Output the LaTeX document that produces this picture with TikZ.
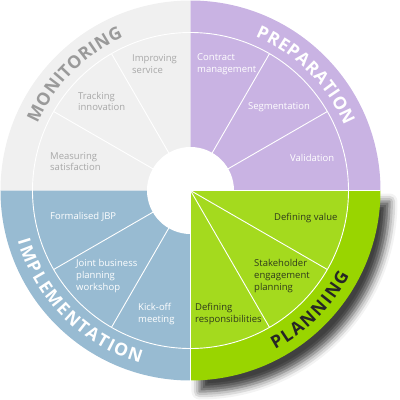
\documentclass[tikz,border=0pt]{standalone}
\usepackage{fontspec}
\setmainfont{Open Sans}
\usetikzlibrary{decorations.text,shadows.blur}
\definecolor{qgrey}{HTML}{F0F0F0}
\definecolor{qpurple}{HTML}{C9B3E3}
\definecolor{qblue}{HTML}{98BBD2}
\definecolor{qgreen}{HTML}{99D500}
\definecolor{qgreenin}{HTML}{A4DA1E}
\definecolor{labgrey}{HTML}{A8A8A8}
\definecolor{titlegrey}{HTML}{9A9A9A}
\definecolor{labdark}{HTML}{2F3A1C}
\newcommand{\titlefnt}{\fontsize{17.5}{17.5}\selectfont\bfseries}
\begin{document}
\begin{tikzpicture}[x=1pt,y=1pt,
  lab/.style={font=\fontsize{9.5}{11.7}\selectfont, align=left, inner sep=0pt, anchor=west},
  sep/.style={white, line width=0.9pt},
  ring/.style={white, line width=0.9pt},
  title/.style={decorate, decoration={text along path, text align=center, text={|\titlefnt|#1}}}
]
\useasboundingbox (-190.5,-209.5) rectangle (209.5,190.5);
% quadrants
\fill[qpurple] (0,0) -- (0:190) arc[start angle=0, end angle=90, radius=190] -- cycle;
\fill[qgrey] (0,0) -- (90:190) arc[start angle=90, end angle=180, radius=190] -- cycle;
\fill[qblue] (0,0) -- (180:190) arc[start angle=180, end angle=270, radius=190] -- cycle;
% rings
\draw[ring] (0:158) arc[start angle=0, end angle=270, radius=158];
% separators
\foreach \a in {30,60,120,150,210,240} \draw[sep] (\a:43) -- (\a:158);
% hub
\fill[white] (0,0) circle (43.5);
% planning quadrant
\fill[qgreen, blur shadow={shadow xshift=9pt, shadow yshift=-11pt, shadow blur radius=8pt, shadow opacity=75}]
  (0,0) -- (270:190) arc[start angle=270, end angle=360, radius=190] -- cycle;
\fill[qgreenin] (0,0) -- (270:158) arc[start angle=270, end angle=360, radius=158] -- cycle;
\draw[white, line width=0.8pt] (0:190) -- (0,0) -- (270:190);
\draw[ring] (270:158) arc[start angle=270, end angle=360, radius=158];
\foreach \a in {300,330} \draw[sep] (0,0) -- (\a:158);
% labels
\node[lab, text=labgrey] (improving) at (-58.5,126.5) {Improving\\service};
\node[lab, text=labgrey] (tracking) at (-112.5,89) {Tracking\\innovation};
\node[lab, text=labgrey] (measuring) at (-140.5,29) {Measuring\\satisfaction};
\node[lab, text=white] (contract) at (6.5,126.5) {Contract\\management};
\node[lab, text=white] (segment) at (57.5,83.5) {Segmentation};
\node[lab, text=white] (validation) at (99.5,32.5) {Validation};
\node[lab, text=white] (jbp) at (-140.5,-26.5) {Formalised JBP};
\node[lab, text=white] (workshop) at (-114.5,-85.5) {Joint business\\planning\\workshop};
\node[lab, text=white] (kickoff) at (-52.5,-123.5) {Kick-off\\meeting};
\node[lab, text=labdark] (value) at (83.5,-27.5) {Defining value};
\node[lab, text=labdark] (stake) at (63.5,-85.5) {Stakeholder\\engagement\\planning};
\node[lab, text=labdark] (resp) at (4.5,-123.5) {Defining\\responsibilities};
% titles
\path[title={M{\kern.6pt}O{\kern.6pt}N{\kern.6pt}I{\kern.6pt}T{\kern.6pt}O{\kern.6pt}R{\kern.6pt}I{\kern.6pt}N{\kern.6pt}G}, decoration={text color=titlegrey}] (165:167) arc[start angle=165, end angle=105, radius=167];
\path[title={P{\kern.6pt}R{\kern.6pt}E{\kern.6pt}P{\kern.6pt}A{\kern.6pt}R{\kern.6pt}A{\kern.6pt}T{\kern.6pt}I{\kern.6pt}O{\kern.6pt}N}, decoration={text color=white}] (75:167) arc[start angle=75, end angle=15, radius=167];
\path[title={I{\kern1.6pt}M{\kern1.6pt}P{\kern1.6pt}L{\kern1.6pt}E{\kern1.6pt}M{\kern1.6pt}E{\kern1.6pt}N{\kern1.6pt}T{\kern1.6pt}A{\kern1.6pt}T{\kern1.6pt}I{\kern1.6pt}O{\kern1.6pt}N}, decoration={text color=white}] (188:180) arc[start angle=188, end angle=262, radius=180];
\path[title={P{\kern1.8pt}L{\kern1.8pt}A{\kern1.8pt}N{\kern1.8pt}N{\kern1.8pt}I{\kern1.8pt}N{\kern1.8pt}G}, decoration={text color=black!85}] (280:180) arc[start angle=280, end angle=350, radius=180];
\end{tikzpicture}
\end{document}
